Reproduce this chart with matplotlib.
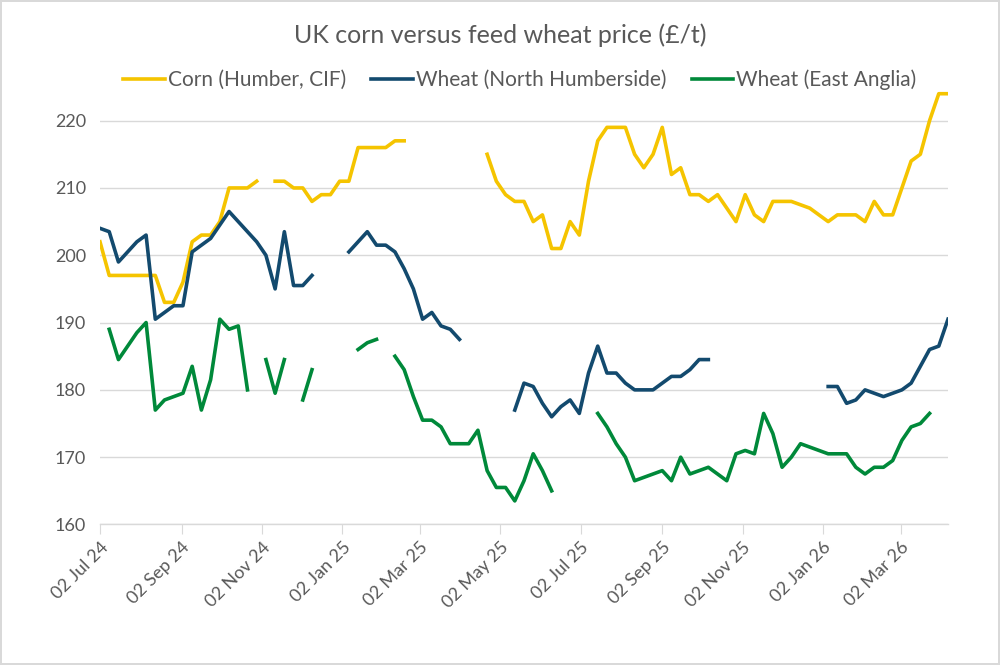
import numpy as np
import pandas as pd
import matplotlib
matplotlib.use('Agg')
import matplotlib.pyplot as plt
import matplotlib.dates as mdates

nan = np.nan

# weekly prices, first week 02 Jul 24
dates = pd.date_range('2024-07-02', periods=93, freq='7D')

corn = [202, 197, 197, 197, 197, 197, 197, 193, 193, 196, 202, 203, 203, 205, 210, 210, 210, 211, nan,
        211, 211, 210, 210, 208, 209, 209, 211, 211, 216, 216, 216, 216, 217, 217,
        nan, nan, nan, nan, nan, nan, nan, nan,
        215, 211, 209, 208, 208, 205, 206, 201, 201, 205, 203, 211, 217, 219, 219, 219, 215, 213, 215,
        219, 212, 213, 209, 209, 208, 209, 207, 205, 209, 206, 205, 208, 208, 208, 207.5, 207, 206,
        205, 206, 206, 206, 205, 208, 206, 206, 210, 214, 215, 220, 224, 224]

wheat_nh = [204, 203.5, 199, 200.5, 202, 203, 190.5, 191.5, 192.5, 192.5, 200.5, 201.5, 202.5, 204.5,
            206.5, 205, 203.5, 202, 200, 195, 203.5, 195.5, 195.5, 197, nan, nan, nan,
            200.5, 202, 203.5, 201.5, 201.5, 200.5, 198, 195, 190.5, 191.5, 189.5, 189, 187.5,
            nan, nan, nan, nan, nan,
            177, 181, 180.5, 178, 176, 177.5, 178.5, 176.5, 182.5, 186.5, 182.5, 182.5, 181, 180,
            180, 180, 181, 182, 182, 183, 184.5, 184.5,
            nan, nan, nan, nan, nan, nan, nan, nan, nan, nan, nan, nan,
            180.5, 180.5, 178, 178.5, 180, 179.5, 179, 179.5, 180, 181, 183.5, 186, 186.5, 190.5]

wheat_ea = [nan, 189, 184.5, 186.5, 188.5, 190, 177, 178.5, 179, 179.5, 183.5, 177, 181.5, 190.5, 189,
            189.5, 180, nan, 184.5, 179.5, 184.5, nan, 178.5, 183, nan, nan, nan, nan,
            186, 187, 187.5, nan, 185, 183, 179, 175.5, 175.5, 174.5, 172, 172, 172, 174, 168,
            165.5, 165.5, 163.5, 166.5, 170.5, 168, 165, nan, nan, nan, nan,
            176.5, 174.5, 172, 170, 166.5, 167, 167.5, 168, 166.5, 170, 167.5, 168, 168.5, 167.5,
            166.5, 170.5, 171, 170.5, 176.5, 173.5, 168.5, 170, 172, 171.5, 171, 170.5, 170.5,
            170.5, 168.5, 167.5, 168.5, 168.5, 169.5, 172.5, 174.5, 175, 176.5, nan, nan]

labels = ['Corn (Humber, CIF)', 'Wheat (North Humberside)', 'Wheat (East Anglia)']
colors = ['#F5C400', '#134A6E', '#00893A']

plt.rcParams['font.family'] = ['Lato', 'DejaVu Sans']
txt = '#595959'
grid = '#D9D9D9'

fig = plt.figure(figsize=(10, 6.65), dpi=100, edgecolor=grid, linewidth=1.5)
ax = fig.add_axes([0.1, 0.2113, 0.848, 0.6579])

for series, lab, col in zip([corn, wheat_nh, wheat_ea], labels, colors):
    ax.plot(dates, series, color=col, lw=2.6, label=lab, solid_joinstyle='round')

ax.set_ylim(160, 225)
ax.set_yticks(range(160, 221, 10))
ax.set_xlim(dates[0], dates[-1])
ax.xaxis.set_major_locator(mdates.MonthLocator(bymonth=[1, 3, 5, 7, 9, 11], bymonthday=2))
ax.xaxis.set_major_formatter(mdates.DateFormatter('%d %b %y'))

ax.grid(axis='y', color=grid, lw=1)
ax.set_axisbelow(True)
for s in ['top', 'right', 'left']:
    ax.spines[s].set_visible(False)
ax.spines['bottom'].set_color(grid)
ax.spines['bottom'].set_linewidth(1)
ax.tick_params(axis='y', length=0, labelsize=13, labelcolor=txt, pad=10)
ax.tick_params(axis='x', length=7, color=grid, labelsize=13, labelcolor=txt)
plt.setp(ax.get_xticklabels(), rotation=45, ha='right', rotation_mode='anchor')

fig.text(0.5, 0.947, 'UK corn versus feed wheat price (£/t)', ha='center', va='center',
         fontsize=18, color=txt)
fig.legend(loc='center', bbox_to_anchor=(0.52, 0.88), ncol=3, frameon=False, fontsize=15,
           labelcolor=txt, handlelength=2.0, handletextpad=0.15, columnspacing=1.2)

fig.savefig('out.png', dpi=100, edgecolor=fig.get_edgecolor())
